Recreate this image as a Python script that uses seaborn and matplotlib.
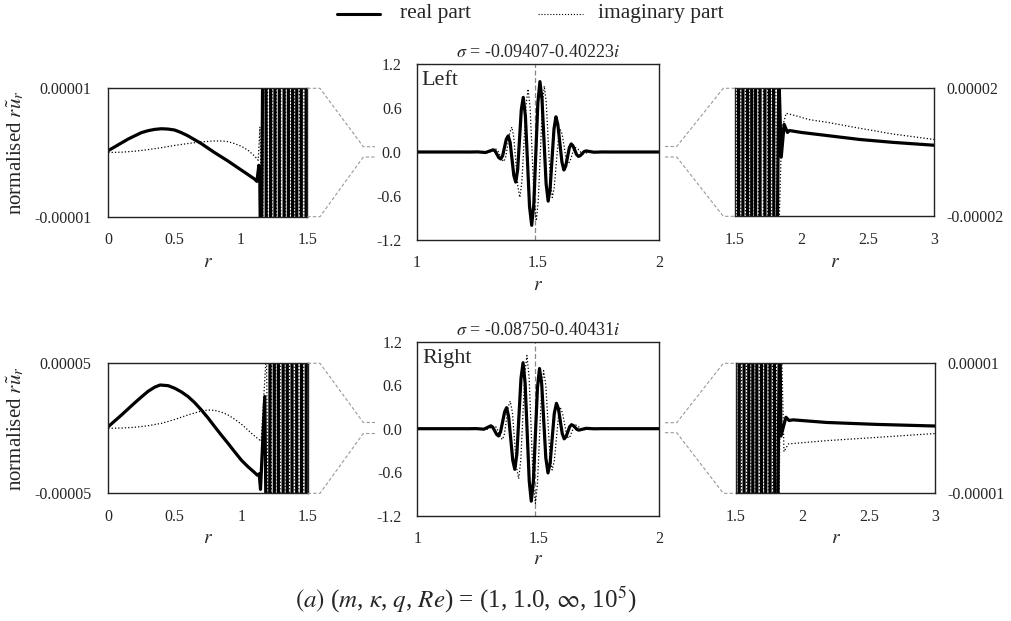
import numpy as np
import pandas as pd
import matplotlib
matplotlib.use("Agg")
import matplotlib.pyplot as plt
import seaborn as sns
from matplotlib.lines import Line2D

# ---------------- data ----------------
# upper case: "Left", sigma = -0.09407-0.40223i
top_r_real = [0.00, 0.05, 0.10, 0.15, 0.20, 0.25, 0.30, 0.35, 0.40, 0.45, 0.50, 0.55, 0.60, 0.65, 0.70, 0.75,
              0.80, 0.85, 0.90, 0.95, 1.00, 1.05, 1.10, 1.12, 1.135, 1.142,
              1.152, 1.184, 1.217, 1.250, 1.283, 1.315, 1.323, 1.338, 1.346, 1.354, 1.369, 1.377, 1.385, 1.400,
              1.408, 1.416, 1.431, 1.439, 1.448, 1.465, 1.474, 1.4825, 1.4995, 1.508, 1.5165, 1.5335, 1.542,
              1.550, 1.566, 1.574, 1.582, 1.599, 1.607, 1.6145, 1.6295, 1.637, 1.6445, 1.6595, 1.667, 1.675,
              1.690, 1.698, 1.731, 1.764, 1.797, 1.830, 1.848, 1.870, 1.895, 1.910, 2.00, 2.20, 2.44, 2.69, 3.00]
top_v_real = [3e-7, 9e-7, 1.5e-6, 2.1e-6, 2.6e-6, 3.1e-6, 3.4e-6, 3.6e-6, 3.7e-6, 3.65e-6, 3.5e-6, 3.1e-6,
              2.6e-6, 2.0e-6, 1.4e-6, 7e-7, 0.0, -6.5e-7, -1.3e-6, -2.0e-6, -2.7e-6, -3.4e-6,
              -4.1e-6, -4.5e-6, -2.0e-6, -4.5e-6, -2.5e-5, 8e-5, -4e-4, 1.6e-3, -7e-3, 0.03, 0.012, -0.077,
              -0.095, -0.049, 0.174, 0.22, 0.128, -0.318, -0.41, -0.241, 0.576, 0.745, 0.490, -0.745, -1.0,
              -0.714, 0.674, 0.96, 0.722, -0.432, -0.67, -0.502, 0.312, 0.48, 0.374, -0.139, -0.245, -0.193,
              0.058, 0.11, 0.085, -0.035, -0.06, -0.049, 0.004, 0.015, -3e-3, 6e-4, -1.2e-4, 2.5e-5, -1.5e-6,
              8.7e-6, 6.2e-6, 6.8e-6, 6.2e-6, 5.2e-6, 4.0e-6, 3.1e-6, 2.2e-6]
top_r_imag = [0.00, 0.10, 0.20, 0.30, 0.40, 0.50, 0.60, 0.70, 0.80, 0.85, 0.90, 0.95, 1.00, 1.05, 1.10, 1.13,
              1.143, 1.163, 1.196, 1.229, 1.262,
              1.294, 1.326, 1.334, 1.351, 1.359, 1.367, 1.384, 1.392, 1.400, 1.417, 1.425, 1.4335, 1.4505,
              1.459, 1.4675, 1.4845, 1.493, 1.501, 1.518, 1.526, 1.534, 1.551, 1.559, 1.567, 1.584, 1.592,
              1.600, 1.616, 1.624, 1.632, 1.647, 1.655, 1.663, 1.679, 1.687, 1.719, 1.751, 1.783, 1.815,
              1.850, 1.864, 1.885, 1.95, 2.06, 2.19, 2.44, 2.69, 3.00]
top_v_imag = [0.0, 5e-8, 2e-7, 4.5e-7, 7.5e-7, 1.1e-6, 1.4e-6, 1.65e-6, 1.8e-6, 1.8e-6, 1.7e-6, 1.4e-6,
              1.0e-6, 4e-7, -5e-7, -1.2e-6, 4.0e-6, -1.6e-5, 8e-5,
              -4e-4, 2e-3, -0.01, 0.04, 0.015, -0.105, -0.13, -0.061, 0.271, 0.34, 0.199, -0.479, -0.62,
              -0.403, 0.643, 0.86, 0.597, -0.677, -0.94, -0.672, 0.632, 0.9, 0.678, -0.398, -0.62, -0.484,
              0.174, 0.31, 0.242, -0.092, -0.16, -0.128, 0.028, 0.06, 0.047, -0.012, -0.025, 6e-3, -1.2e-3,
              2.5e-4, -5e-5, 5e-6, 9e-6, 1.22e-5, 1.15e-5, 1.02e-5, 9.4e-6, 7.5e-6, 5.7e-6, 4.0e-6]

# lower case: "Right", sigma = -0.08750-0.40431i
bot_r_real = [0.00, 0.05, 0.10, 0.15, 0.20, 0.25, 0.30, 0.35, 0.39, 0.45, 0.50, 0.55, 0.60, 0.65, 0.70, 0.75,
              0.80, 0.85, 0.90, 0.95, 1.00, 1.05, 1.10, 1.12, 1.135, 1.145,
              1.177, 1.210, 1.243, 1.275, 1.304, 1.312, 1.328, 1.336, 1.344, 1.361, 1.369, 1.3775, 1.3945,
              1.403, 1.4115, 1.4285, 1.437, 1.4455, 1.4625, 1.471, 1.4795, 1.4965, 1.505, 1.514, 1.531, 1.540,
              1.549, 1.566, 1.575, 1.583, 1.599, 1.607, 1.6145, 1.6295, 1.637, 1.6445, 1.6595, 1.667, 1.698,
              1.730, 1.762, 1.797, 1.828, 1.838, 1.876, 1.900, 1.930, 2.18, 2.56, 3.00]
bot_v_real = [1.3e-6, 5.8e-6, 1.03e-5, 1.5e-5, 1.97e-5, 2.42e-5, 2.85e-5, 3.17e-5, 3.33e-5, 3.28e-5, 3.08e-5,
              2.8e-5, 2.44e-5, 1.97e-5, 1.41e-5, 8e-6, 1.3e-6, -5.2e-6, -1.15e-5, -1.8e-5,
              -2.44e-5, -2.95e-5, -3.4e-5, -3.6e-5, -3.5e-5, -4.7e-5, 2.44e-5, -3e-4, 1.5e-3, -7e-3, 0.04,
              0.019, -0.079, -0.1, -0.043, 0.233, 0.29, 0.166, -0.436, -0.56, -0.345, 0.695, 0.91, 0.631,
              -0.721, -1.0, -0.733, 0.563, 0.83, 0.620, -0.400, -0.61, -0.470, 0.210, 0.35, 0.279, -0.069,
              -0.14, -0.112, 0.027, 0.055, 0.044, -0.009, -0.02, 5e-3, -1.2e-3, 2.5e-4, -6e-5, 2e-5, -1.2e-6,
              1.7e-6, 1.2e-6, 1.3e-6, 9e-7, 6e-7, 3.5e-7]
bot_r_imag = [0.00, 0.10, 0.20, 0.30, 0.40, 0.50, 0.60, 0.70, 0.75, 0.80, 0.85, 0.90, 0.95, 1.00, 1.05, 1.10,
              1.15, 1.190, 1.222, 1.255, 1.288, 1.320, 1.328,
              1.344, 1.352, 1.360, 1.376, 1.384, 1.393, 1.410, 1.419, 1.4275, 1.4445, 1.453, 1.462, 1.479,
              1.488, 1.4965, 1.5135, 1.522, 1.531, 1.548, 1.557, 1.566, 1.583, 1.592, 1.600, 1.616, 1.624,
              1.6315, 1.6465, 1.654, 1.662, 1.677, 1.685, 1.716, 1.748, 1.780, 1.812, 1.840, 1.861, 1.894,
              2.18, 2.56, 3.00]
bot_v_imag = [0.0, 2e-7, 8e-7, 2.0e-6, 3.8e-6, 6.8e-6, 1.03e-5, 1.33e-5, 1.41e-5, 1.38e-5, 1.25e-5, 1.03e-5,
              7e-6, 3.3e-6, -1.3e-6, -5.9e-6, -1.0e-5, 6e-5, -3e-4, 1.5e-3,
              -8e-3, 0.04, 0.012, -0.122, -0.15, -0.073, 0.303, 0.38, 0.224, -0.534, -0.69, -0.442, 0.762,
              1.01, 0.713, -0.733, -1.03, -0.763, 0.533, 0.8, 0.600, -0.370, -0.57, -0.446, 0.156, 0.28,
              0.220, -0.070, -0.13, -0.104, 0.024, 0.05, 0.041, -0.006, -0.015, 3e-3, -6e-4, 1.2e-4, -3e-5,
              1.5e-5, -3.6e-6, -2.4e-6, -1.9e-6, -1.4e-6, -8e-7]

titles = [r"$\sigma$ = -0.09407-0.40223$i$", r"$\sigma$ = -0.08750-0.40431$i$"]
tags = ["Left", "Right"]
critical_r = [1.488, 1.485]
left_lims = [1e-5, 5e-5]
left_ticklabels = [["-0.00001", "0.00001"], ["-0.00005", "0.00005"]]
right_lims = [2e-5, 1e-5]
right_ticklabels = [["-0.00002", "0.00002"], ["-0.00001", "0.00001"]]
left_xticks = [0, 0.5, 1, 1.5]
left_xticklabels = ["0", "0.5", "1", "1.5"]
mid_xticks = [1, 1.5, 2]
mid_xticklabels = ["1", "1.5", "2"]
mid_yticks = [-1.2, -0.6, 0.0, 0.6, 1.2]
mid_yticklabels = ["-1.2", "-0.6", "0.0", "0.6", "1.2"]
right_xticks = [1.5, 2, 2.5, 3]
right_xticklabels = ["1.5", "2", "2.5", "3"]

# ---------------- style ----------------
sns.set_style("white")
plt.rcParams["font.family"] = ["Liberation Serif", "DejaVu Serif"]
plt.rcParams["mathtext.fontset"] = "stix"

W, H = 1012, 621
fig = plt.figure(figsize=(W / 100, H / 100), dpi=100)


def box(x0, y0, x1, y1):
    return [x0 / W, 1 - y1 / H, (x1 - x0) / W, (y1 - y0) / H]


def fig_line(xs, ys, **kw):
    fig.add_artist(Line2D([x / W for x in xs], [1 - y / H for y in ys],
                          transform=fig.transFigure, **kw))


boxes = [
    [box(108.3, 88.3, 307.3, 216.7), box(417, 64, 659, 240), box(735, 88.3, 934.3, 216.3)],
    [box(108.3, 363.3, 307.7, 493.3), box(417.3, 341.7, 659.3, 515.7), box(736, 363.3, 935.3, 493.3)],
]

data = [
    (top_r_real, top_v_real, top_r_imag, top_v_imag),
    (bot_r_real, bot_v_real, bot_r_imag, bot_v_imag),
]

TICK_FS = 11.5


def draw_curves(ax, rr, rv, ir, iv):
    sns.lineplot(x=rr, y=rv, ax=ax, color="black", lw=2.3, estimator=None, sort=False)
    sns.lineplot(x=ir, y=iv, ax=ax, color="black", lw=0.9, linestyle=":", estimator=None, sort=False)


def style_ax(ax):
    for sp in ax.spines.values():
        sp.set_color("#222222")
        sp.set_linewidth(1.0)
    ax.tick_params(length=0, labelsize=TICK_FS)
    ax.tick_params(axis="x", pad=11)


for row in range(2):
    rr, rv, ir, iv = data[row]
    bl, bm, br = boxes[row]

    # left panel
    axl = fig.add_axes(bl)
    draw_curves(axl, rr, rv, ir, iv)
    axl.set_xlim(0, 1.5)
    axl.set_ylim(-left_lims[row], left_lims[row])
    axl.set_xticks(left_xticks)
    axl.set_xticklabels(left_xticklabels)
    axl.set_yticks([-left_lims[row], left_lims[row]])
    axl.set_yticklabels(left_ticklabels[row])
    style_ax(axl)
    axl.tick_params(axis="y", pad=12)
    axl.text(0.5, -0.36 if row == 0 else -0.35, "$r$", transform=axl.transAxes,
             ha="center", va="center", fontsize=14)

    # middle panel
    axm = fig.add_axes(bm)
    axm.axvline(critical_r[row], color="#888888", lw=0.9, ls=(0, (4, 2)), zorder=0.5)
    draw_curves(axm, rr, rv, ir, iv)
    axm.set_xlim(1, 2)
    axm.set_ylim(-1.2, 1.2)
    axm.set_xticks(mid_xticks)
    axm.set_xticklabels(mid_xticklabels)
    axm.set_yticks(mid_yticks)
    axm.set_yticklabels(mid_yticklabels)
    style_ax(axm)
    axm.tick_params(axis="y", pad=11)
    axm.set_title(titles[row], fontsize=13, pad=5)
    axm.text(0.02, 0.905, tags[row], transform=axm.transAxes, fontsize=16,
             ha="left", va="center")
    axm.text(0.5, -0.256 if row == 0 else -0.25, "$r$", transform=axm.transAxes,
             ha="center", va="center", fontsize=14)

    # right panel
    axr = fig.add_axes(br)
    draw_curves(axr, rr, rv, ir, iv)
    axr.set_xlim(1.5, 3)
    axr.set_ylim(-right_lims[row], right_lims[row])
    axr.set_xticks(right_xticks)
    axr.set_xticklabels(right_xticklabels)
    axr.set_yticks([-right_lims[row], right_lims[row]])
    axr.set_yticklabels(right_ticklabels[row])
    style_ax(axr)
    axr.yaxis.tick_right()
    axr.tick_params(axis="y", pad=9, labelright=True, labelleft=False, length=0)
    axr.text(0.5, -0.36 if row == 0 else -0.35, "$r$", transform=axr.transAxes,
             ha="center", va="center", fontsize=14)

# y labels
fig.text(15 / W, 1 - 152.5 / H, r"normalised $r\tilde{u}_r$", rotation=90,
         ha="center", va="center", fontsize=15)
fig.text(15 / W, 1 - 428.3 / H, r"normalised $r\tilde{u}_r$", rotation=90,
         ha="center", va="center", fontsize=15)

# zoom connectors
ck = dict(color="#999999", lw=0.8, ls=(0, (3, 2)))
# upper row
fig_line([307.3, 320, 363.3, 375], [88.3, 88.3, 146.7, 146.7], **ck)
fig_line([307.3, 320, 363.3, 375], [216.7, 216.7, 157, 157], **ck)
fig_line([665, 676.7, 723.3, 735], [146.5, 146.5, 88.3, 88.3], **ck)
fig_line([665, 676.7, 723.3, 735], [157, 157, 216.3, 216.3], **ck)
# lower row
fig_line([307.7, 320, 363.3, 375], [363.3, 363.3, 422.5, 422.5], **ck)
fig_line([307.7, 320, 363.3, 375], [493.3, 493.3, 433.5, 433.5], **ck)
fig_line([665, 676.7, 723.3, 736], [422.7, 422.7, 363.3, 363.3], **ck)
fig_line([665, 676.7, 723.3, 736], [432.7, 432.7, 493.3, 493.3], **ck)

# legend
fig_line([337, 380], [13.5, 13.5], color="black", lw=2.2)
fig.text(400 / W, 1 - 13.5 / H, "real part", ha="left", va="center", fontsize=15.5)
fig_line([538, 583], [13.5, 13.5], color="black", lw=0.8, ls=":")
fig.text(598 / W, 1 - 13.5 / H, "imaginary part", ha="left", va="center", fontsize=15.5)

# caption
fig.text(466 / W, 1 - 600 / H,
         r"$(a)$ ($m$, $\kappa$, $q$, $Re$) = (1, 1.0, $\infty$, 10$^5$)",
         ha="center", va="center", fontsize=18)

fig.savefig("out.png", dpi=100, facecolor="white")
